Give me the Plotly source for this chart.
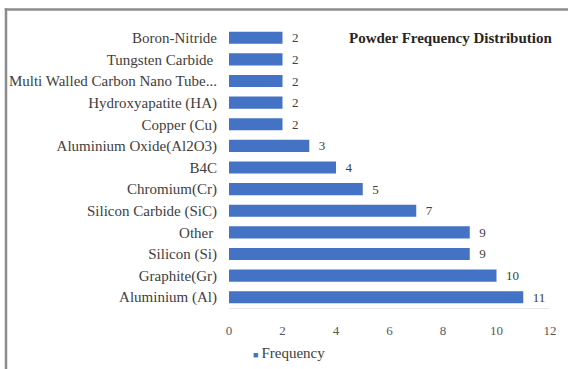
import plotly.graph_objects as go

# Powder types (top to bottom) and how often each appears
powders = [
    "Boron-Nitride",
    "Tungsten Carbide ",
    "Multi Walled Carbon Nano Tube...",
    "Hydroxyapatite (HA)",
    "Copper (Cu)",
    "Aluminium Oxide(Al2O3)",
    "B4C",
    "Chromium(Cr)",
    "Silicon Carbide (SiC)",
    "Other ",
    "Silicon (Si)",
    "Graphite(Gr)",
    "Aluminium (Al)",
]
frequency = [2, 2, 2, 2, 2, 3, 4, 5, 7, 9, 9, 10, 11]
x_ticks = [0, 2, 4, 6, 8, 10, 12]
series_name = "Frequency"

W, H = 568, 369
ML, MR, MT, MB = 229, 18, 27, 61
pw, ph = W - ML - MR, H - MT - MB

serif = "Liberation Serif"
bar_color = "#4472C4"

fig = go.Figure(
    go.Bar(
        y=powders,
        x=frequency,
        orientation="h",
        name=series_name,
        showlegend=False,
        marker=dict(color=bar_color, line=dict(width=0)),
        text=[f"  {v}" for v in frequency],
        textposition="outside",
        constraintext="none",
        textfont=dict(family=serif, size=13, color="#404040"),
        cliponaxis=False,
    )
)

def px_x(p):
    return (p - ML) / pw

def px_y(p):
    return (H - MB - p) / ph

fig.update_layout(
    width=W,
    height=H,
    margin=dict(l=ML, r=MR, t=MT, b=MB, autoexpand=False),
    paper_bgcolor="white",
    plot_bgcolor="white",
    bargap=0.44,
    font=dict(family=serif, color="#404040"),
    showlegend=False,
    xaxis=dict(
        range=[0, 12],
        tickvals=x_ticks,
        showgrid=False,
        zeroline=False,
        showline=True,
        linecolor="#e6e6e6",
        linewidth=1,
        tickfont=dict(family=serif, size=13, color="#595959"),
        ticks="",
        ticklabelstandoff=10,
        automargin=False,
    ),
    yaxis=dict(
        autorange="reversed",
        showgrid=False,
        zeroline=False,
        showline=False,
        tickfont=dict(family=serif, size=15, color="#404040"),
        ticks="",
        ticklabelstandoff=11,
        automargin=False,
    ),
    annotations=[
        dict(
            text="<b>Powder Frequency Distribution</b>",
            xref="paper",
            yref="paper",
            x=px_x(554),
            y=px_y(38),
            xanchor="right",
            yanchor="middle",
            showarrow=False,
            font=dict(family=serif, size=15, color="#262626"),
        ),
        # series key below the axis
        dict(
            text=f"<span style='color:{bar_color};font-size:9px'>■</span>\u2009{series_name}",
            xref="paper",
            yref="paper",
            x=px_x(251),
            y=px_y(353),
            xanchor="left",
            yanchor="middle",
            showarrow=False,
            font=dict(family=serif, size=15, color="#404040"),
        ),
    ],
    shapes=[
        # outer frame: top and left edges
        dict(type="line", xref="paper", yref="paper",
             x0=px_x(4.8), x1=px_x(W + 40), y0=px_y(9.5), y1=px_y(9.5),
             line=dict(color="#8c8c8c", width=2.5)),
        dict(type="line", xref="paper", yref="paper",
             x0=px_x(6), x1=px_x(6), y0=px_y(8.3), y1=px_y(H + 40),
             line=dict(color="#8c8c8c", width=2.5)),
    ],
)

fig.write_html("out.html")
